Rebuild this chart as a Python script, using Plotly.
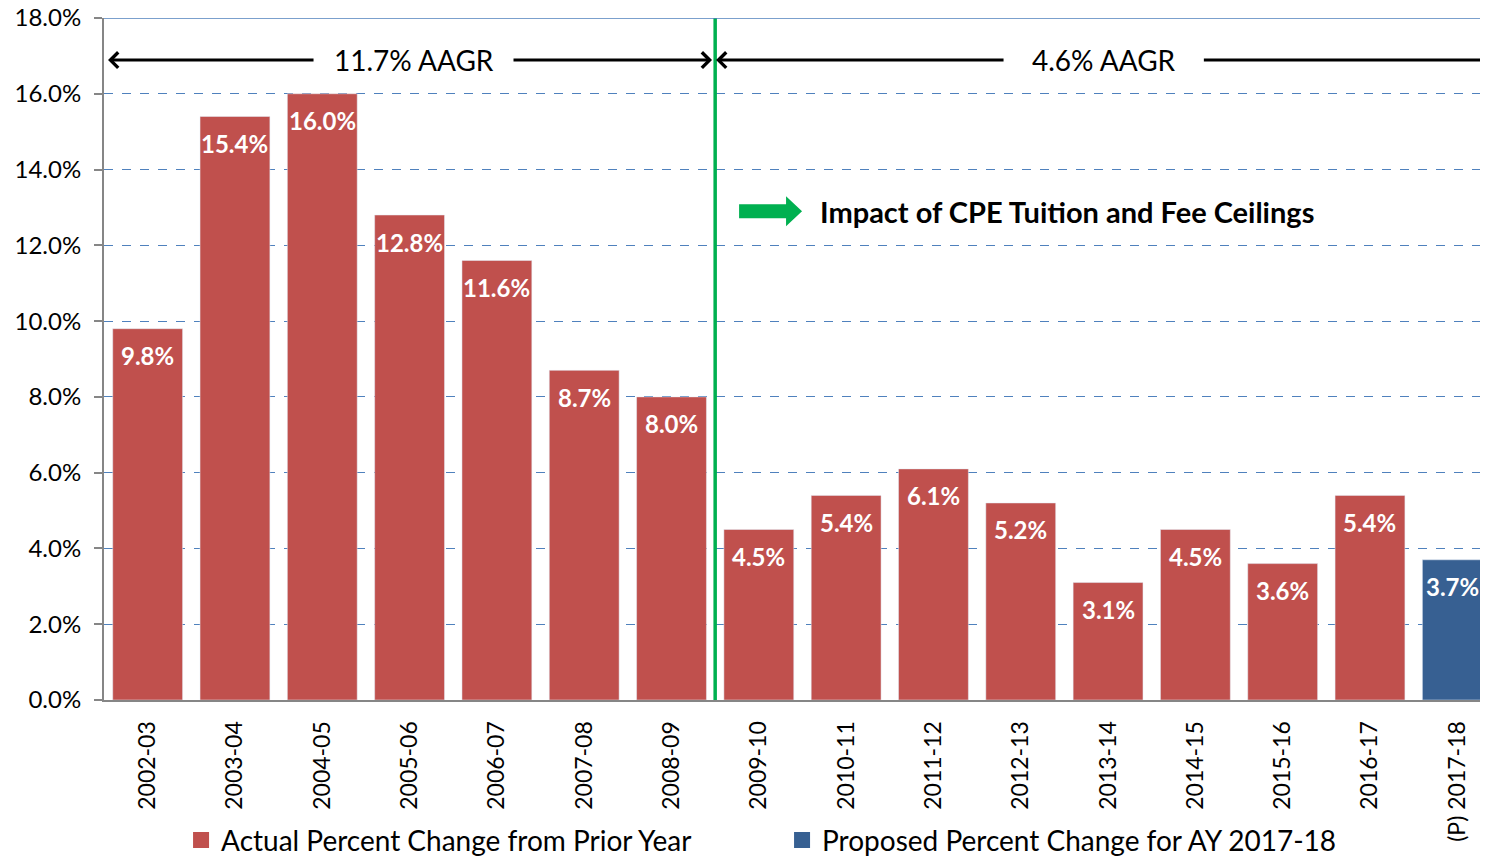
import plotly.graph_objects as go

years = ['2002-03', '2003-04', '2004-05', '2005-06', '2006-07', '2007-08', '2008-09',
         '2009-10', '2010-11', '2011-12', '2012-13', '2013-14', '2014-15', '2015-16',
         '2016-17', '(P) 2017-18']
actual = [9.8, 15.4, 16.0, 12.8, 11.6, 8.7, 8.0, 4.5, 5.4, 6.1, 5.2, 3.1, 4.5, 3.6, 5.4]
proposed = [3.7]
y_ticks = [0, 2, 4, 6, 8, 10, 12, 14, 16, 18]

RED = '#C0504D'
BLUE = '#376092'
GREEN = '#00B050'
FONT = 'Lato'

x_actual = list(range(len(actual)))
x_prop = list(range(len(actual), len(years)))

fig = go.Figure()
fig.add_trace(go.Bar(x=x_actual, y=actual, marker_color=RED, showlegend=False,
                     name='Actual Percent Change from Prior Year'))
fig.add_trace(go.Bar(x=x_prop, y=proposed, marker_color=BLUE, showlegend=False,
                     name='Proposed Percent Change for AY 2017-18'))
# legend entries with bigger square swatches
fig.add_trace(go.Scatter(x=[None], y=[None], mode='markers', name='Actual Percent Change from Prior Year',
                         marker=dict(symbol='square', size=18, color=RED)))
fig.add_trace(go.Scatter(x=[None], y=[None], mode='markers', name='Proposed Percent Change for AY 2017-18',
                         marker=dict(symbol='square', size=18, color=BLUE)))

# value labels, inside the top of each bar
for xi, v in zip(x_actual + x_prop, actual + proposed):
    fig.add_annotation(x=xi, y=v, yshift=-27, xshift=-5 if xi == len(years) - 1 else 0,
                       text=f'{v:.1f}%', showarrow=False,
                       font=dict(family=FONT, size=24, color='white', weight='bold'))

# AAGR arrows
arrow_y = 16.89
for head, tail in [(-0.454, 1.917), (6.464, 4.173), (6.51, 9.82), (15.6, 12.08)]:
    fig.add_annotation(x=head, y=arrow_y, ax=tail, ay=arrow_y, xref='x', yref='y',
                       axref='x', ayref='y', text='', showarrow=True, arrowhead=4,
                       arrowsize=1, arrowwidth=3, arrowcolor='black', standoff=0)
fig.add_annotation(x=3.051, y=arrow_y, text='11.7% AAGR', showarrow=False,
                   font=dict(family=FONT, size=28, color='black'))
fig.add_annotation(x=10.955, y=arrow_y, text='4.6% AAGR', showarrow=False,
                   font=dict(family=FONT, size=28, color='black'))

# divider and green block arrow
fig.add_shape(type='line', x0=6.5, x1=6.5, y0=0, y1=18, xref='x', yref='y',
              line=dict(color=GREEN, width=3.5))
fig.add_shape(type='path', xref='x', yref='y', fillcolor=GREEN, line_width=0,
              path='M 6.774,12.718 L 6.774,13.087 L 7.312,13.087 L 7.312,13.298 '
                   'L 7.495,12.902 L 7.312,12.507 L 7.312,12.718 Z')
fig.add_annotation(x=7.679, y=12.90, xanchor='left', text='Impact of CPE Tuition and Fee Ceilings',
                   showarrow=False, font=dict(family=FONT, size=29, color='black', weight='bold'))

# solid top border line
fig.add_shape(type='line', x0=0, x1=1, y0=18, y1=18, xref='paper', yref='y',
              line=dict(color='#4F81BD', width=1.5))

fig.update_layout(
    width=1472, height=848,
    margin=dict(l=96, r=0, t=10, b=156, autoexpand=False),
    plot_bgcolor='white', paper_bgcolor='white',
    bargap=0.2, barmode='overlay',
    font=dict(family=FONT, size=24, color='black'),
    legend=dict(orientation='h', x=0.056, y=-0.169, xanchor='left', yanchor='top',
                font=dict(size=28), entrywidth=556),
)
fig.update_xaxes(range=[-0.5, 15.26], tickvals=list(range(len(years))), ticktext=years,
                 tickangle=-90, showline=True, linecolor='#868686', linewidth=2,
                 showgrid=False, ticks='', ticklabelstandoff=10, automargin=False,
                 tickfont=dict(size=23))
fig.update_yaxes(range=[0, 18.0001], tickvals=y_ticks, ticktext=[f'{t:.1f}%' for t in y_ticks],
                 showline=True, linecolor='#868686', linewidth=2, ticks='outside',
                 ticklen=8, tickcolor='#868686', tickwidth=2, automargin=False,
                 ticklabelstandoff=8, ticklabeloverflow='allow',
                 showgrid=True, gridcolor='#4F81BD', griddash='dash', gridwidth=1,
                 zeroline=False)

fig.write_html('out.html')
